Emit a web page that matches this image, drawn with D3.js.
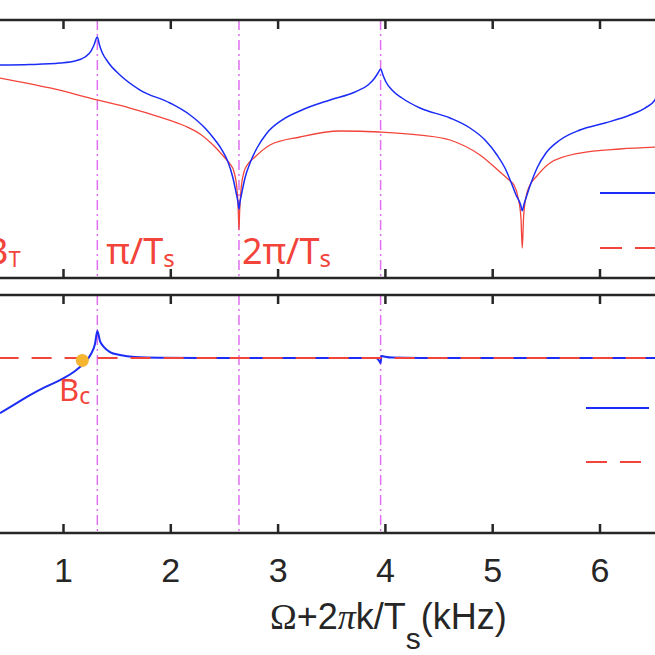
<!DOCTYPE html>
<html>
<head>
<meta charset="utf-8">
<script src="https://cdn.jsdelivr.net/npm/d3@7"></script>
<style>
  html, body { margin: 0; padding: 0; background: #fff; }
  svg { display: block; }
</style>
</head>
<body>
<svg id="chart" width="655" height="655"></svg>
<script>
// frequency axis in kHz, magnitudes in arbitrary units
const xTicks = [1, 2, 3, 4, 5, 6];
const markers = [1.32, 2.64, 3.96]; // pi/Ts, 2pi/Ts, 3pi/Ts

// upper panel, blue curve
const topBlueK = [0.413, 0.692, 0.972, 1.112, 1.205, 1.261, 1.289, 1.32, 1.34, 1.363, 1.419, 1.531, 1.718, 1.997,
  2.184, 2.323, 2.417, 2.482, 2.538, 2.584, 2.612, 2.632, 2.64, 2.648, 2.668, 2.696, 2.743, 2.808, 2.901, 3.041, 3.227, 3.488,
  3.721, 3.843, 3.898, 3.936, 3.96, 3.982, 4.01, 4.066, 4.159, 4.327, 4.607, 4.793, 4.933, 5.045, 5.119, 5.175,
  5.222, 5.265, 5.28, 5.295, 5.324, 5.362, 5.418, 5.501, 5.632, 5.818, 6.051, 6.284, 6.424, 6.517, 6.564];
const topBlueV = [-7.5, -7.42, -7.17, -6.83, -6.17, -5.17, -4.17, -2.83, -4.17, -5.33, -7.0, -9.17, -11.67, -13.83,
  -15.83, -18.0, -20.0, -21.67, -23.67, -26.33, -28.67, -30.5, -31.5, -30.5, -28.67, -26.33, -23.83, -21.33, -18.83, -16.67, -15.0, -13.33,
  -12.0, -10.83, -9.83, -8.83, -8.17, -9.17, -10.33, -11.67, -13.0, -14.67, -16.33, -18.0, -20.0, -22.5, -24.67, -27.0,
  -29.17, -30.8, -31.8, -30.8, -29.17, -27.17, -24.67, -22.17, -20.0, -18.33, -17.17, -15.83, -14.67, -13.33, -10.0];

// upper panel, red curve
const topRedK = [0.413, 0.879, 1.317, 1.624, 1.904, 2.137, 2.277, 2.417, 2.51, 2.557, 2.594, 2.622, 2.634, 2.64,
  2.646, 2.659, 2.687, 2.724, 2.789, 2.929, 3.209, 3.582, 3.954, 4.327, 4.607, 4.886, 5.073, 5.157, 5.203, 5.24,
  5.268, 5.28, 5.292, 5.315, 5.352, 5.408, 5.539, 5.818, 6.191, 6.564];
const topRedV = [-9.67, -11.33, -13.33, -14.67, -16.17, -17.67, -19.0, -21.17, -23.0, -24.0, -25.33, -28.33, -32, -35.0,
  -32, -28.33, -25.33, -24.0, -22.83, -20.83, -19.5, -18.5, -18.67, -19.17, -20.0, -22.5, -25.33, -26.67, -27.5, -29.5,
  -33, -38.0, -33, -29.5, -27.5, -26.17, -23.83, -22.17, -21.5, -21.17];

// lower panel, blue curve
const botBlueK = [0.413, 0.553, 0.692, 0.832, 0.972, 1.112, 1.205, 1.261, 1.298, 1.32, 1.345, 1.382, 1.438, 1.531,
  1.671, 1.904, 2.277, 3.209, 3.917, 3.945, 3.959, 3.968, 3.992, 4.066, 4.327, 6.564];
const botBlueV = [-0.462, -0.387, -0.311, -0.244, -0.185, -0.109, -0.034, 0.034, 0.118, 0.227, 0.143, 0.092, 0.05, 0.025,
  0.008, 0.002, 0, 0, 0, -0.021, -0.042, 0.017, 0.013, 0.004, 0, 0];

// lower panel, red dashed reference
const botRedK = [0.4, 6.6];
const botRedV = [0, 0];

// crossing point B_c
const bcK = 1.18;
const bcV = -0.02;

const BLUE = '#1a2cf5';
const RED = '#f2443a';
const MAGENTA = '#e070f0';
const FRAME = '#262626';

const W = 655;
const TOP = { y0: 20, y1: 278 };
const BOT = { y0: 295, y1: 533 };

const svg = d3.select('#chart');

const x = d3.scaleLinear().domain([1, 6]).range([63, 599.5]);
const yTop = d3.scaleLinear().domain([-43, 0]).range([TOP.y1, TOP.y0]);
const yBot = d3.scaleLinear().domain([-1.47, 0.53]).range([BOT.y1, BOT.y0]);

const zip = (ks, vs) => ks.map((k, i) => ({ k, v: vs[i] }));

function panel(name, p) {
    svg.append('clipPath').attr('id', 'clip-' + name)
        .append('rect').attr('x', 0).attr('y', p.y0).attr('width', W).attr('height', p.y1 - p.y0);
    return svg.append('g').attr('clip-path', `url(#clip-${name})`);
}

function frame(p) {
    // edges of the box run off the picture left and right
    svg.append('line').attr('x1', 0).attr('x2', W).attr('y1', p.y0).attr('y2', p.y0)
        .attr('stroke', FRAME).attr('stroke-width', 2.5);
    svg.append('line').attr('x1', 0).attr('x2', W).attr('y1', p.y1).attr('y2', p.y1)
        .attr('stroke', FRAME).attr('stroke-width', 2.5);

    const tTop = svg.append('g').attr('transform', `translate(0,${p.y0})`)
        .call(d3.axisTop(x).tickValues(xTicks).tickSize(-9).tickFormat(''));
    const tBot = svg.append('g').attr('transform', `translate(0,${p.y1})`)
        .call(d3.axisBottom(x).tickValues(xTicks).tickSize(-9).tickFormat(''));
    [tTop, tBot].forEach(g => {
        g.select('.domain').remove();
        g.selectAll('line').attr('stroke', FRAME).attr('stroke-width', 2.5);
    });
}

function markerLines(g, p) {
    g.selectAll(null).data(markers).enter().append('line')
        .attr('x1', d => x(d)).attr('x2', d => x(d))
        .attr('y1', p.y0).attr('y2', p.y1)
        .attr('stroke', MAGENTA).attr('stroke-width', 1.5)
        .attr('stroke-dasharray', '10,4,2,4');
}

// ---- upper panel
const gTop = panel('top', TOP);
markerLines(gTop, TOP);

const lineTop = d3.line().x(d => x(d.k)).y(d => yTop(d.v)).curve(d3.curveMonotoneX);
gTop.append('path').datum(zip(topRedK, topRedV))
    .attr('fill', 'none').attr('stroke', RED).attr('stroke-width', 1.3).attr('d', lineTop);
gTop.append('path').datum(zip(topBlueK, topBlueV))
    .attr('fill', 'none').attr('stroke', BLUE).attr('stroke-width', 1.5).attr('d', lineTop);

// legend lines (labels are cut off in the figure)
gTop.append('line').attr('x1', 600).attr('x2', W).attr('y1', 193).attr('y2', 193)
    .attr('stroke', BLUE).attr('stroke-width', 2);
gTop.append('line').attr('x1', 600).attr('x2', W).attr('y1', 248).attr('y2', 248)
    .attr('stroke', RED).attr('stroke-width', 2).attr('stroke-dasharray', '22,13');

frame(TOP);

// ---- lower panel
const gBot = panel('bot', BOT);
markerLines(gBot, BOT);

const lineBot = d3.line().x(d => x(d.k)).y(d => yBot(d.v)).curve(d3.curveMonotoneX);
gBot.append('path').datum(zip(botBlueK, botBlueV))
    .attr('fill', 'none').attr('stroke', BLUE).attr('stroke-width', 2).attr('d', lineBot);
gBot.append('path').datum(zip(botRedK, botRedV))
    .attr('fill', 'none').attr('stroke', RED).attr('stroke-width', 2)
    .attr('stroke-dasharray', '20,13').attr('d', lineBot);

gBot.append('circle').attr('cx', x(bcK)).attr('cy', yBot(bcV)).attr('r', 6.5).attr('fill', '#f6b531');

gBot.append('line').attr('x1', 586).attr('x2', 649).attr('y1', 408).attr('y2', 408)
    .attr('stroke', BLUE).attr('stroke-width', 2);
gBot.append('line').attr('x1', 586).attr('x2', 649).attr('y1', 462).attr('y2', 462)
    .attr('stroke', RED).attr('stroke-width', 2).attr('stroke-dasharray', '21,13');

frame(BOT);

// ---- annotations
const anno = svg.append('g').attr('font-family', '"Noto Sans", sans-serif').attr('fill', RED);

function subLabel(xPos, yPos, main, sub, size, subSize) {
    const t = anno.append('text').attr('x', xPos).attr('y', yPos).attr('font-size', size);
    t.append('tspan').text(main);
    t.append('tspan').attr('font-size', subSize).attr('dy', 3).text(sub);
}
// B_T sits at the left edge and is cut off in the figure too
subLabel(-15, 264, 'B', 'T', 36, 22);
subLabel(x(markers[0]) + 9, 264, 'π/T', 's', 36, 24);
subLabel(x(markers[1]) + 3, 264, '2π/T', 's', 36, 24);
subLabel(59, 401, 'B', 'c', 31, 23);

// ---- x axis labels
const xAxis = svg.append('g').attr('transform', `translate(0,${BOT.y1})`)
    .call(d3.axisBottom(x).tickValues(xTicks).tickSize(0).tickPadding(25).tickFormat(d3.format('d')));
xAxis.select('.domain').remove();
xAxis.selectAll('text')
    .attr('font-family', '"Liberation Sans", Arial, sans-serif')
    .attr('font-size', 34)
    .attr('fill', '#262626');

const title = svg.append('text')
    .attr('x', 270).attr('y', 629)
    .attr('font-family', '"Liberation Sans", Arial, sans-serif')
    .attr('font-size', 36).attr('fill', '#262626');
title.append('tspan').attr('font-family', '"Liberation Serif", serif').text('Ω');
title.append('tspan').text('+2');
title.append('tspan').attr('font-family', '"Liberation Serif", serif').attr('font-style', 'italic').text('π');
title.append('tspan').text('k/T');
title.append('tspan').attr('font-size', 30).attr('dy', 20).text('s');
title.append('tspan').attr('dy', -20).text('(kHz)');
</script>
</body>
</html>
